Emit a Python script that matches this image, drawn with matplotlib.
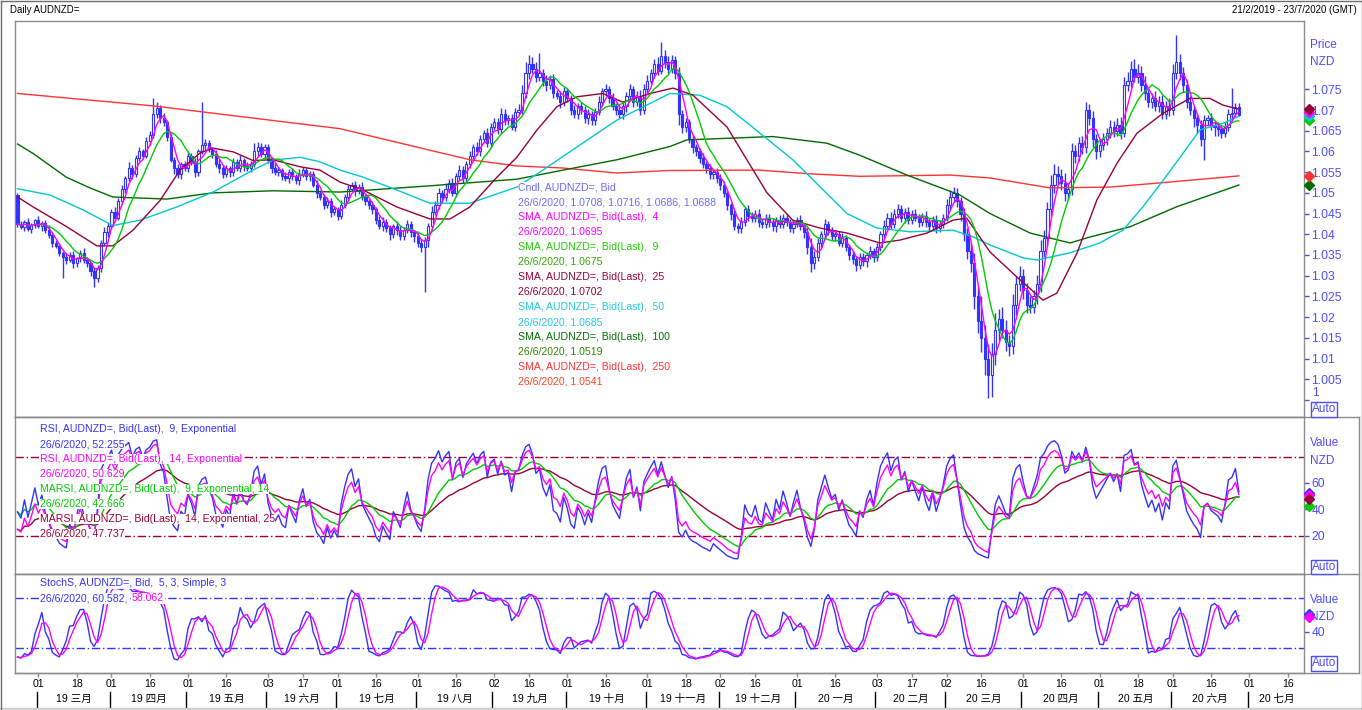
import numpy as np
import pandas as pd
import matplotlib
matplotlib.use('Agg')
import matplotlib.pyplot as plt
from matplotlib.lines import Line2D

plt.rcParams['font.family'] = ['Liberation Sans', 'Noto Sans CJK SC']

# trading days on the time axis (weekdays, 21/2/2019 - 23/7/2020)
dates = pd.bdate_range('2019-02-21', '2020-07-23')

# daily closes AUDNZD=, open = previous close
first_open = 1.0495
closes = [
    1.0425, 1.0418, 1.0430, 1.0412, 1.0422, 1.0435, 1.0420, 1.0428, 1.0410, 1.0398,
    1.0380, 1.0372, 1.0355, 1.0345, 1.0338, 1.0350, 1.0330, 1.0342, 1.0355, 1.0338,
    1.0330, 1.0312, 1.0295, 1.0318, 1.0380, 1.0405, 1.0420, 1.0455, 1.0440, 1.0480,
    1.0510, 1.0535, 1.0560, 1.0545, 1.0585, 1.0600, 1.0590, 1.0625, 1.0640, 1.0690,
    1.0705, 1.0680, 1.0670, 1.0635, 1.0580, 1.0560, 1.0545, 1.0570, 1.0560, 1.0590,
    1.0575, 1.0550, 1.0600, 1.0615, 1.0620, 1.0605, 1.0595, 1.0570, 1.0560, 1.0545,
    1.0560, 1.0550, 1.0575, 1.0560, 1.0580, 1.0565, 1.0560, 1.0570, 1.0600, 1.0610,
    1.0595, 1.0610, 1.0580, 1.0560, 1.0550, 1.0555, 1.0540, 1.0535, 1.0550, 1.0540,
    1.0530, 1.0545, 1.0555, 1.0540, 1.0545, 1.0520, 1.0500, 1.0490, 1.0470, 1.0480,
    1.0455, 1.0460, 1.0445, 1.0470, 1.0490, 1.0510, 1.0520, 1.0505, 1.0515, 1.0490,
    1.0480, 1.0470, 1.0460, 1.0435, 1.0420, 1.0430, 1.0415, 1.0400, 1.0420, 1.0410,
    1.0395, 1.0410, 1.0425, 1.0405, 1.0395, 1.0380, 1.0370, 1.0385, 1.0420, 1.0455,
    1.0470, 1.0500, 1.0490, 1.0510, 1.0525, 1.0500, 1.0540, 1.0555, 1.0535, 1.0570,
    1.0590, 1.0610, 1.0600, 1.0630, 1.0645, 1.0620, 1.0660, 1.0670, 1.0655, 1.0690,
    1.0675, 1.0680, 1.0660, 1.0695, 1.0700, 1.0740, 1.0790, 1.0810, 1.0800, 1.0780,
    1.0790, 1.0770, 1.0760, 1.0775, 1.0740, 1.0735, 1.0720, 1.0745, 1.0730, 1.0700,
    1.0690, 1.0710, 1.0700, 1.0680, 1.0690, 1.0675, 1.0695, 1.0720, 1.0745, 1.0750,
    1.0730, 1.0710, 1.0700, 1.0690, 1.0710, 1.0735, 1.0750, 1.0720, 1.0735, 1.0700,
    1.0750, 1.0770, 1.0790, 1.0810, 1.0795, 1.0830, 1.0815, 1.0800, 1.0820, 1.0790,
    1.0690, 1.0660, 1.0670, 1.0630, 1.0610, 1.0600, 1.0585, 1.0570, 1.0560, 1.0545,
    1.0550, 1.0535, 1.0520, 1.0500, 1.0470, 1.0450, 1.0420, 1.0415, 1.0430, 1.0460,
    1.0445, 1.0440, 1.0450, 1.0430, 1.0425, 1.0440, 1.0430, 1.0420, 1.0435, 1.0425,
    1.0440, 1.0430, 1.0415, 1.0425, 1.0435, 1.0420, 1.0405, 1.0370, 1.0330, 1.0345,
    1.0380, 1.0400, 1.0425, 1.0410, 1.0395, 1.0400, 1.0380, 1.0390, 1.0370, 1.0350,
    1.0340, 1.0325, 1.0345, 1.0335, 1.0350, 1.0360, 1.0345, 1.0370, 1.0400, 1.0420,
    1.0440, 1.0425, 1.0450, 1.0460, 1.0440, 1.0455, 1.0435, 1.0450, 1.0440, 1.0430,
    1.0445, 1.0430, 1.0420, 1.0435, 1.0415, 1.0425, 1.0440, 1.0470, 1.0490, 1.0500,
    1.0480, 1.0450, 1.0400, 1.0360, 1.0330, 1.0250, 1.0190, 1.0150, 1.0100, 1.0060,
    1.0110, 1.0170, 1.0195, 1.0170, 1.0140, 1.0130, 1.0230, 1.0280, 1.0300, 1.0265,
    1.0230, 1.0225, 1.0250, 1.0280, 1.0360, 1.0390, 1.0460, 1.0520, 1.0545, 1.0540,
    1.0525, 1.0500, 1.0510, 1.0600, 1.0590, 1.0620, 1.0610, 1.0700, 1.0680, 1.0630,
    1.0600, 1.0615, 1.0630, 1.0645, 1.0660, 1.0650, 1.0665, 1.0645, 1.0760, 1.0770,
    1.0800, 1.0780, 1.0790, 1.0760, 1.0740, 1.0720, 1.0730, 1.0710, 1.0720, 1.0690,
    1.0710, 1.0700, 1.0790, 1.0815, 1.0790, 1.0760, 1.0720, 1.0700, 1.0680, 1.0665,
    1.0630, 1.0675, 1.0680, 1.0665, 1.0660, 1.0655, 1.0645, 1.0660, 1.0690, 1.0694,
    1.0708, 1.0688,
]
# upper / lower shadow beyond the body, in pips
wick_up = [
    5, 8, 4, 10, 6, 3, 9, 5, 7, 12, 4, 6, 8, 5, 9, 7, 9, 4, 6, 11,
    6, 4, 9, 7, 5, 12, 8, 6, 10, 7, 9, 5, 14, 8, 6, 11, 7, 9, 10, 38,
    15, 8, 12, 6, 9, 7, 10, 5, 8, 12, 6, 9, 7, 105, 10, 8, 6, 9, 12, 7,
    8, 6, 10, 7, 12, 5, 9, 8, 20, 14, 10, 7, 9, 6, 11, 8, 5, 10, 7, 9,
    6, 12, 8, 5, 9, 7, 10, 6, 8, 11, 7, 9, 5, 12, 8, 10, 6, 9, 7, 11,
    8, 6, 10, 5, 9, 12, 7, 8, 6, 11, 9, 7, 10, 8, 6, 12, 9, 8, 7, 14,
    10, 12, 8, 15, 9, 11, 7, 13, 10, 8, 12, 9, 14, 10, 8, 12, 9, 11, 10, 15,
    12, 8, 10, 9, 14, 20, 25, 22, 18, 15, 48, 10, 14, 9, 11, 8, 12, 10, 9, 7,
    11, 8, 10, 9, 12, 7, 10, 14, 9, 12, 8, 10, 7, 15, 11, 8, 12, 9, 10, 14,
    12, 15, 10, 13, 18, 34, 15, 15, 12, 10, 14, 9, 11, 8, 10, 7, 9, 12, 8, 10,
    7, 9, 11, 8, 10, 6, 9, 8, 12, 7, 10, 8, 9, 11, 7, 10, 8, 9, 6, 12,
    8, 10, 7, 9, 6, 11, 8, 12, 20, 14, 10, 9, 11, 8, 7, 10, 9, 12, 8, 7,
    10, 8, 9, 11, 7, 12, 8, 10, 9, 14, 12, 15, 10, 13, 11, 9, 12, 8, 10, 9,
    7, 11, 9, 8, 12, 10, 9, 14, 18, 15, 12, 10, 14, 16, 20, 25, 22, 60, 30, 35,
    28, 40, 25, 30, 22, 18, 25, 20, 24, 15, 18, 20, 16, 22, 25, 20, 18, 22, 24, 20,
    18, 22, 15, 20, 16, 14, 18, 20, 15, 17, 12, 15, 14, 12, 16, 13, 15, 18, 20, 22,
    18, 24, 20, 16, 22, 14, 12, 15, 13, 16, 12, 18, 20, 66, 20, 15, 12, 14, 10, 12,
    10, 12, 9, 14, 8, 11, 10, 10, 12, 59, 10, 8,
]
wick_dn = [
    8, 6, 10, 5, 9, 7, 4, 11, 6, 8, 10, 5, 7, 50, 9, 6, 12, 8, 10, 7,
    9, 12, 22, 10, 8, 6, 11, 7, 9, 5, 8, 10, 6, 12, 7, 9, 8, 6, 10, 7,
    9, 12, 8, 10, 6, 14, 9, 11, 7, 10, 8, 12, 9, 7, 11, 6, 10, 8, 12, 9,
    7, 11, 9, 8, 10, 12, 6, 9, 7, 10, 8, 12, 9, 11, 7, 10, 8, 6, 12, 9,
    8, 10, 7, 9, 11, 6, 12, 8, 10, 7, 14, 9, 11, 8, 6, 10, 9, 12, 7, 8,
    10, 8, 12, 9, 7, 11, 10, 14, 8, 12, 9, 10, 7, 11, 13, 10, 12, 110, 15, 9,
    8, 10, 12, 9, 11, 7, 10, 8, 12, 9, 11, 10, 8, 12, 9, 10, 11, 8, 14, 10,
    12, 10, 9, 11, 8, 10, 12, 14, 10, 12, 9, 11, 13, 10, 12, 9, 15, 11, 10, 12,
    10, 12, 9, 11, 14, 10, 12, 8, 11, 10, 13, 9, 12, 10, 11, 14, 9, 12, 10, 11,
    9, 11, 8, 12, 10, 9, 13, 11, 10, 14, 25, 15, 12, 10, 14, 11, 12, 10, 13, 11,
    12, 10, 14, 11, 12, 15, 10, 13, 11, 9, 12, 10, 11, 13, 9, 10, 12, 11, 14, 10,
    9, 11, 10, 12, 8, 10, 13, 18, 20, 15, 10, 12, 9, 11, 10, 12, 9, 11, 10, 13,
    12, 14, 10, 11, 13, 9, 12, 10, 11, 9, 10, 12, 9, 11, 10, 12, 11, 10, 9, 12,
    10, 12, 11, 9, 12, 10, 11, 9, 10, 12, 14, 18, 16, 20, 22, 30, 28, 35, 40, 55,
    52, 25, 28, 20, 22, 25, 20, 24, 18, 22, 20, 16, 15, 18, 20, 16, 18, 15, 20, 22,
    18, 20, 16, 15, 18, 14, 16, 13, 15, 20, 18, 14, 12, 15, 13, 14, 12, 15, 11, 13,
    14, 12, 15, 13, 16, 12, 14, 13, 15, 12, 11, 14, 13, 15, 18, 16, 14, 12, 20, 20,
    18, 50, 12, 14, 22, 18, 12, 10, 11, 13, 12, 2,
]

# longer moving averages (trading day number, value)
sma25_day = [0, 4.5, 14.2, 22.8, 27.4, 33.2, 41, 46.7, 52.4, 56.2, 62, 67.7, 73.4, 81.2, 86.9,
             92.7, 99.3, 109, 118.5, 124.3, 130, 137.8, 143.5, 149.3, 155, 160.8, 168.2, 174,
             181.8, 188.4, 194.1, 203.9, 209.6, 215.4, 222.8, 230.6, 238.4, 247.8, 253.6, 261.4,
             268.8, 272.8, 279.5, 287.2, 294.7, 298.7, 304.5, 310.2, 316, 321.7, 329.2, 336.9,
             342.7, 346.4, 351]
sma25_val = [1.0490, 1.0466, 1.0418, 1.0372, 1.0372, 1.0410, 1.0482, 1.0555, 1.0596, 1.0608,
             1.0599, 1.0578, 1.0580, 1.0563, 1.0555, 1.0526, 1.0507, 1.0466, 1.0437, 1.0437,
             1.0466, 1.0538, 1.0586, 1.0652, 1.0708, 1.0732, 1.0740, 1.0719, 1.0740, 1.0753,
             1.0736, 1.0659, 1.0580, 1.0500, 1.0434, 1.0415, 1.0403, 1.0379, 1.0386, 1.0403,
             1.0434, 1.0439, 1.0357, 1.0297, 1.0241, 1.0258, 1.0355, 1.0483, 1.0572, 1.0644,
             1.0692, 1.0728, 1.0728, 1.0712, 1.0702]
sma50_day = [0, 9.3, 18.8, 27.4, 35.2, 45.8, 56.2, 67.7, 73.4, 81.2, 86.9, 92.7, 99.3, 109,
             118.5, 130, 143.5, 151, 160.8, 172.3, 187.5, 196, 203.9, 213.4, 222.8, 230.6,
             238.4, 247, 256.5, 268.8, 274.6, 279.5, 289, 293, 302.4, 311, 317.7, 323.4, 329.2,
             334.9, 339.8, 346.4, 351]
sma50_val = [1.0510, 1.0495, 1.0459, 1.0421, 1.0434, 1.0466, 1.0502, 1.0555, 1.0579, 1.0586,
             1.0575, 1.0555, 1.0538, 1.0507, 1.0475, 1.0475, 1.0514, 1.0555, 1.0611, 1.0676,
             1.0740, 1.0736, 1.0708, 1.0644, 1.0580, 1.0515, 1.0450, 1.0415, 1.0406, 1.0410,
             1.0394, 1.0374, 1.0343, 1.0338, 1.0355, 1.0379, 1.0410, 1.0466, 1.0530, 1.0595,
             1.0652, 1.0668, 1.0685]
sma100_day = [0, 4.5, 14, 20.8, 27.4, 43, 56, 73.4, 92.7, 118.5, 143.5, 156.8, 172.3, 187.5,
              192.4, 217, 232.6, 242, 255.6, 270.8, 279.5, 291, 302.5, 308, 319.7, 333, 351]
sma100_val = [1.0618, 1.0595, 1.0538, 1.0512, 1.0490, 1.0485, 1.0500, 1.0505, 1.0502, 1.0517,
              1.0533, 1.0555, 1.0580, 1.0612, 1.0628, 1.0636, 1.0620, 1.0591, 1.0543, 1.0495,
              1.0450, 1.0403, 1.0379, 1.0393, 1.0418, 1.0466, 1.0519]
sma250_day = [0, 39, 92.7, 118.5, 130, 143.5, 156.8, 172, 187.5, 213, 227.7, 242, 268, 279.5,
              296.7, 314, 331, 351]
sma250_val = [1.0740, 1.0710, 1.0655, 1.0603, 1.0580, 1.0565, 1.0560, 1.0548, 1.0554, 1.0555,
              1.0546, 1.0540, 1.0543, 1.0536, 1.0512, 1.0514, 1.0526, 1.0541]

# last values shown in the legends (26/6/2020)
sma_last = [1.0695, 1.0675, 1.0702, 1.0685, 1.0519, 1.0541]
rsi_last = [52.255, 50.629, 42.666, 47.737]
stoch_last = [60.582, 58.062]

# colours
blue = '#3333ff'
magenta = '#ff00ff'
green = '#00cc00'
maroon = '#99003a'
cyan = '#00c8d0'
dkgreen = '#006a00'
red = '#ff3333'
lblue = '#4d4dff'
grey = '#8c8c8c'

c = np.array(closes)
o = np.r_[first_open, c[:-1]]
h = np.maximum(o, c) + np.array(wick_up) / 1e4
l = np.minimum(o, c) - np.array(wick_dn) / 1e4
idx = np.arange(len(c))
cs = pd.Series(c)

sma4 = cs.rolling(4, min_periods=1).mean()
sma9 = cs.rolling(9, min_periods=1).mean()


def rsi(s, n):
    d = s.diff()
    gain = d.clip(lower=0)
    loss = -d.clip(upper=0)
    # start the averages from the first n moves
    gain.iloc[0] = gain.iloc[1:n + 1].mean()
    loss.iloc[0] = loss.iloc[1:n + 1].mean()
    up = gain.ewm(span=n, adjust=False).mean()
    dn = loss.ewm(span=n, adjust=False).mean()
    return 100 - 100 / (1 + up / dn)


rsi9 = rsi(cs, 9)
rsi14 = rsi(cs, 14)
marsi9 = rsi9.ewm(span=14).mean()
marsi14 = rsi14.ewm(span=25).mean()

ll = pd.Series(l).rolling(5, min_periods=1).min()
hh = pd.Series(h).rolling(5, min_periods=1).max()
fastk = 100 * (cs - ll) / (hh - ll)
slowk = fastk.rolling(3, min_periods=1).mean()
slowd = slowk.rolling(3, min_periods=1).mean()

# figure, pixel based layout
W, H = 1362, 710
fig = plt.figure(figsize=(W / 100, H / 100), dpi=100)
fig.patch.set_facecolor('white')


def fx(x):
    return x / W


def fy(y):
    return 1 - y / H


XL, XR = 14.5, 1304.3


def panel(top, bottom):
    a = fig.add_axes([fx(XL), fy(bottom), fx(XR) - fx(XL), fy(top) - fy(bottom)])
    a.set_xlim(-0.86, 369.8)
    for s in a.spines.values():
        s.set_color(grey)
        s.set_linewidth(1)
    a.yaxis.tick_right()
    a.tick_params(axis='y', direction='out', length=3.6, width=1, color=lblue,
                  labelcolor=lblue, labelsize=8.7, pad=1.5)
    a.tick_params(axis='x', bottom=False, labelbottom=False)
    return a


ax = panel(21, 416.5)
ax_rsi = panel(416.5, 574.3)
ax_st = panel(574.3, 673)

# ---- price panel
ax.set_ylim(0.9960, 1.0915)
yt = np.arange(1.0, 1.07501, 0.005)
ax.set_yticks(yt)
ax.set_yticklabels([''] + ['%g' % round(v, 3) for v in yt[1:]])
fig.text(fx(1312), fy(393), '1', color=lblue, fontsize=8.7, va='center')

up = c >= o
ax.vlines(idx, l, h, color=blue, lw=1, zorder=2)
ax.bar(idx, np.maximum(np.abs(c - o), 0.00006), bottom=np.minimum(o, c), width=0.62,
       color=np.where(up, 'white', blue), edgecolor=blue, linewidth=0.8, zorder=3)

ax.plot(sma250_day, sma250_val, color=red, lw=1, zorder=4)
ax.plot(sma100_day, sma100_val, color=dkgreen, lw=1, zorder=4)
ax.plot(sma50_day, sma50_val, color=cyan, lw=1, zorder=4)
ax.plot(sma25_day, sma25_val, color=maroon, lw=1, zorder=4)
ax.plot(idx, sma9, color=green, lw=1, zorder=4)
ax.plot(idx, sma4, color=magenta, lw=1, zorder=4)

sma_cols = [magenta, green, maroon, cyan, dkgreen, red]
for v, col in sorted(zip(sma_last, sma_cols)):
    ax.plot([1.0036], [v], transform=ax.get_yaxis_transform(), marker='D', ms=5,
            color=col, clip_on=False, ls='none', zorder=6)

legend_main = [
    ('Cndl, AUDNZD=, Bid', '#6a6aff'),
    ('26/6/2020, 1.0708, 1.0716, 1.0686, 1.0688', '#6a6aff'),
    ('SMA, AUDNZD=, Bid(Last),  4', magenta),
    ('26/6/2020, 1.0695', magenta),
    ('SMA, AUDNZD=, Bid(Last),  9', '#22cc00'),
    ('26/6/2020, 1.0675', '#33aa00'),
    ('SMA, AUDNZD=, Bid(Last),  25', maroon),
    ('26/6/2020, 1.0702', maroon),
    ('SMA, AUDNZD=, Bid(Last),  50', '#22ccdd'),
    ('26/6/2020, 1.0685', '#22ccdd'),
    ('SMA, AUDNZD=, Bid(Last),  100', '#007000'),
    ('26/6/2020, 1.0519', '#338800'),
    ('SMA, AUDNZD=, Bid(Last),  250', red),
    ('26/6/2020, 1.0541', '#ff4422'),
]
for k, (s, col) in enumerate(legend_main):
    fig.text(fx(518), fy(187 + 15 * k), s, color=col, fontsize=7.6, va='center',
             bbox=dict(facecolor='white', edgecolor='none', pad=0.3))

# ---- RSI panel
ax_rsi.set_ylim(-9.1, 110.3)
ax_rsi.set_yticks([20, 40, 60])
for lev in (80, 20):
    ax_rsi.axhline(lev, color=maroon, lw=1, ls=(0, (6, 2, 1, 2)), zorder=1)
ax_rsi.plot(idx, marsi14, color=maroon, lw=1, zorder=3)
ax_rsi.plot(idx, marsi9, color=green, lw=1, zorder=3)
ax_rsi.plot(idx, rsi9, color=blue, lw=1, zorder=4)
ax_rsi.plot(idx, rsi14, color=magenta, lw=1, zorder=5)
for v, col in zip(rsi_last, [blue, magenta, green, maroon]):
    ax_rsi.plot([1.0036], [v], transform=ax_rsi.get_yaxis_transform(), marker='D', ms=5,
                color=col, clip_on=False, ls='none', zorder=6)

legend_rsi = [
    ('RSI, AUDNZD=, Bid(Last),  9, Exponential', blue),
    ('26/6/2020, 52.255', blue),
    ('RSI, AUDNZD=, Bid(Last),  14, Exponential', magenta),
    ('26/6/2020, 50.629', magenta),
    ('MARSI, AUDNZD=, Bid(Last),  9, Exponential, 14', green),
    ('26/6/2020, 42.666', green),
    ('MARSI, AUDNZD=, Bid(Last),  14, Exponential, 25', maroon),
    ('26/6/2020, 47.737', maroon),
]
for k, (s, col) in enumerate(legend_rsi):
    fig.text(fx(39.5), fy(429 + 15 * k), s, color=col, fontsize=7.6, va='center',
             bbox=dict(facecolor='white', edgecolor='none', pad=0.3))

# ---- stochastic panel
ax_st.set_ylim(-9.6, 108.8)
ax_st.set_yticks([40])
for lev in (80, 20):
    ax_st.axhline(lev, color=blue, lw=1, ls=(0, (6, 2, 1, 2)), zorder=1)
ax_st.plot(idx, slowk, color=blue, lw=1, zorder=3)
ax_st.plot(idx, slowd, color=magenta, lw=1, zorder=4)
for v, col in zip(stoch_last, [blue, magenta]):
    ax_st.plot([1.0036], [v], transform=ax_st.get_yaxis_transform(), marker='D', ms=5,
               color=col, clip_on=False, ls='none', zorder=6)
fig.text(fx(39.5), fy(583.3), 'StochS, AUDNZD=, Bid,  5, 3, Simple, 3', color=blue,
         fontsize=7.6, va='center', bbox=dict(facecolor='white', edgecolor='none', pad=0.3))
fig.text(fx(39.5), fy(598.3), '26/6/2020, 60.582, ', color=blue, fontsize=7.6,
         va='center', bbox=dict(facecolor='white', edgecolor='none', pad=0.3))
fig.text(fx(132), fy(598.3), '58.062', color=magenta, fontsize=7.6, va='center',
         bbox=dict(facecolor='white', edgecolor='none', pad=0.3))

# ---- right column headers and Auto boxes
for s, y in [('Price', 45), ('NZD', 62), ('Value', 443), ('NZD', 461), ('Value', 600), ('NZD', 617)]:
    fig.text(fx(1310), fy(y), s, color=lblue, fontsize=8.5, va='center')
for y in (409.5, 567, 663.5):
    fig.text(fx(1312), fy(y), 'Auto', color=lblue, fontsize=8.5, va='center',
             bbox=dict(facecolor='white', edgecolor=lblue, pad=0.8, linewidth=1))

# ---- time axis
cn_months = ['一月', '二月', '三月', '四月', '五月', '六月', '七月', '八月', '九月',
             '十月', '十一月', '十二月']
ds = pd.Series(np.arange(len(dates)), index=dates)
tick_pos, tick_lab, month_start, month_lab = [], [], [], []
for (yy, mm), grp in ds.groupby([dates.year, dates.month]):
    if (yy, mm) == (2019, 2):
        continue
    first = grp.iloc[0]
    second = grp[grp.index.day >= 16].iloc[0]
    tick_pos += [first, second]
    tick_lab += [dates[first].strftime('%d'), dates[second].strftime('%d')]
    month_start.append(first)
    month_lab.append('%02d %s' % (yy % 100, cn_months[mm - 1]))

ax_st.set_xticks(tick_pos)
ax_st.set_xticklabels(tick_lab)
ax_st.tick_params(axis='x', bottom=True, labelbottom=True, direction='out', length=3,
                  width=1, color=grey, labelsize=7.6, pad=1.5, labelcolor='black')
tr = ax_st.get_xaxis_transform()
ax_h = 673 - 574.3
ends = month_start[1:] + [369.8 + 0.5]
for m, e, s in zip(month_start, ends, month_lab):
    ax_st.plot([m - 0.5, m - 0.5], [-(692 - 673) / ax_h, -(707 - 673) / ax_h], transform=tr,
               color='black', lw=1, clip_on=False)
    ax_st.text((m + e - 0.5) / 2, -(698.5 - 673) / ax_h, s, transform=tr, ha='center',
               va='center', fontsize=7.6, color='black')

# ---- header and frame
fig.text(fx(10), fy(10), 'Daily AUDNZD=', fontsize=6.9, va='center')
fig.text(fx(1357), fy(10), '21/2/2019 - 23/7/2020 (GMT)', fontsize=6.9, va='center', ha='right')


def fline(xs, ys, col=grey, lw=1):
    fig.add_artist(Line2D([fx(v) for v in xs], [fy(v) for v in ys], color=col, lw=lw))


fline([XL, 1359], [416.5, 416.5])
fline([XL, 1359], [574.3, 574.3])
fline([XL, 1359], [673, 673])
fline([1359, 1359], [416.5, 673])
fline([0, 1362], [707.5, 707.5], col='#c8c8c8')
fline([0.5, 1361.5, 1361.5, 0.5, 0.5], [0.5, 0.5, 709.5, 709.5, 0.5], col='#6e6e6e')

fig.savefig('out.png', dpi=100)
